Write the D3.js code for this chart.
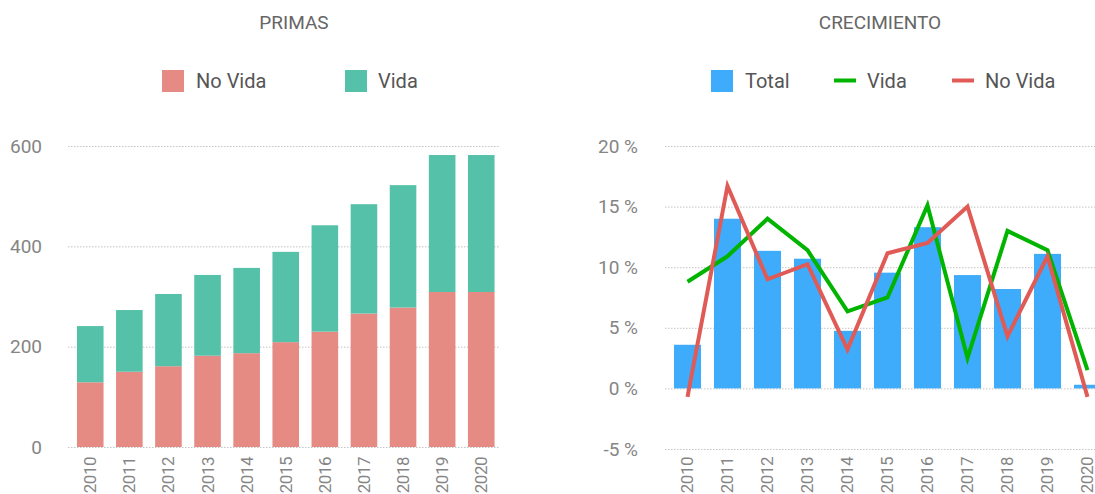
<html><head>
<title>Primas y crecimiento</title>
<script src="https://d3js.org/d3.v7.min.js"></script>
<style>
  body { margin: 0; background: #fff; }
  text { font-family: Roboto, "Open Sans", sans-serif; }
</style>
</head>
<body>
<svg id="chart" width="1095" height="494"></svg>
<script>

  // data
  const years = ["2010","2011","2012","2013","2014","2015","2016","2017","2018","2019","2020"];
  const primasNoVida = [129, 150, 161, 182, 187, 209, 230, 266, 278, 309, 309];
  const primasVida   = [112, 123, 144, 161, 170, 180, 212, 218, 244, 273, 273];
  const primasTicks = [0, 200, 400, 600];

  const crecTotal  = [3.6, 14.0, 11.35, 10.7, 4.75, 9.55, 13.3, 9.35, 8.2, 11.1, 0.3];
  const crecVida   = [8.8, 10.9, 14.0, 11.4, 6.35, 7.5, 15.1, 2.5, 13.0, 11.4, 1.5];
  const crecNoVida = [-0.7, 16.7, 9.0, 10.25, 3.2, 11.15, 12.0, 15.0, 4.3, 10.9, -0.7];
  const crecTicks = [-5, 0, 5, 10, 15, 20];

  const colNoVida = "#e68a84";
  const colVida = "#55c1a8";
  const colTotal = "#3eabfb";
  const colLineVida = "#00b400";
  const colLineNoVida = "#e05a56";

  const svg = d3.select("#chart");

  function gridAndAxis(g, y, ticks, x0, x1, labelX, fmt) {
    g.selectAll("line.grid").data(ticks)
      .join("line")
      .attr("class", "grid")
      .attr("x1", x0).attr("x2", x1)
      .attr("y1", d => y(d) + 0.5).attr("y2", d => y(d) + 0.5)
      .attr("stroke", "#c4c4c4")
      .attr("stroke-dasharray", "1.5,1.5");
    g.selectAll("text.ytick").data(ticks)
      .join("text")
      .attr("class", "ytick")
      .attr("x", labelX)
      .attr("y", d => y(d))
      .attr("dy", "0.35em")
      .attr("text-anchor", "end")
      .attr("fill", "#858585")
      .style("font-size", "19px")
      .text(fmt);
  }

  // rotated year labels, their end sits just under the zero line
  function xLabels(g, x, topY) {
    g.selectAll("text.xtick").data(years)
      .join("text")
      .attr("class", "xtick")
      .attr("transform", d => "translate(" + (x(d) + x.bandwidth() / 2) + "," + topY + ") rotate(-90)")
      .attr("dy", "0.35em")
      .attr("text-anchor", "end")
      .attr("fill", "#858585")
      .style("font-size", "17px")
      .style("letter-spacing", "-0.5px")
      .text(d => d);
  }

  function title(txt, cx) {
    svg.append("text")
      .attr("x", cx).attr("y", 29)
      .attr("text-anchor", "middle")
      .attr("fill", "#666")
      .style("font-size", "19px")
      .text(txt);
  }

  function legendText(txt, x) {
    svg.append("text")
      .attr("x", x).attr("y", 81)
      .attr("dy", "0.35em")
      .attr("fill", "#555")
      .style("font-size", "20px")
      .text(txt);
  }

  // ---------- PRIMAS (stacked bars) ----------
  const left = svg.append("g");
  const x1 = d3.scaleBand().domain(years).range([70.7, 500.8]).paddingInner(0.32).paddingOuter(0.16);
  const y1 = d3.scaleLinear().domain([0, 600]).range([447, 146]);

  gridAndAxis(left, y1, primasTicks, 68, 500, 42, d => d);

  const stackData = years.map((yr, i) => ({ year: yr, noVida: primasNoVida[i], vida: primasVida[i] }));
  const series = d3.stack().keys(["noVida", "vida"])(stackData);
  const stackColors = { noVida: colNoVida, vida: colVida };

  left.selectAll("g.layer").data(series)
    .join("g")
    .attr("class", "layer")
    .attr("fill", d => stackColors[d.key])
    .selectAll("rect").data(d => d)
    .join("rect")
    .attr("x", d => x1(d.data.year))
    .attr("width", x1.bandwidth())
    .attr("y", d => y1(d[1]))
    .attr("height", d => y1(d[0]) - y1(d[1]));

  xLabels(left, x1, 457);

  title("PRIMAS", 294);
  svg.append("rect").attr("x", 162).attr("y", 70).attr("width", 22).attr("height", 22).attr("fill", colNoVida);
  legendText("No Vida", 196);
  svg.append("rect").attr("x", 345).attr("y", 70).attr("width", 22).attr("height", 22).attr("fill", colVida);
  legendText("Vida", 378);

  // ---------- CRECIMIENTO (bars + lines) ----------
  const right = svg.append("g");
  const x2 = d3.scaleBand().domain(years).range([667.5, 1107.5]).paddingInner(0.325).paddingOuter(0.1625);
  const y2 = d3.scaleLinear().domain([-5, 20]).range([449, 146]);

  gridAndAxis(right, y2, crecTicks, 665, 1095, 638, d => d + " %");

  right.selectAll("rect.total").data(crecTotal)
    .join("rect")
    .attr("class", "total")
    .attr("fill", colTotal)
    .attr("x", (d, i) => x2(years[i]))
    .attr("width", x2.bandwidth())
    .attr("y", d => y2(Math.max(0, d)))
    .attr("height", d => Math.abs(y2(d) - y2(0)));

  const line = d3.line()
    .x((d, i) => x2(years[i]) + x2.bandwidth() / 2)
    .y(d => y2(d));

  right.append("path").datum(crecVida)
    .attr("d", line)
    .attr("fill", "none")
    .attr("stroke", colLineVida)
    .attr("stroke-width", 4);

  right.append("path").datum(crecNoVida)
    .attr("d", line)
    .attr("fill", "none")
    .attr("stroke", colLineNoVida)
    .attr("stroke-width", 4);

  xLabels(right, x2, 457);

  title("CRECIMIENTO", 880);
  svg.append("rect").attr("x", 711).attr("y", 70).attr("width", 22).attr("height", 22).attr("fill", colTotal);
  legendText("Total", 745);
  svg.append("line").attr("x1", 834).attr("x2", 856).attr("y1", 80.5).attr("y2", 80.5)
    .attr("stroke", colLineVida).attr("stroke-width", 4);
  legendText("Vida", 867);
  svg.append("line").attr("x1", 952).attr("x2", 974).attr("y1", 80.5).attr("y2", 80.5)
    .attr("stroke", colLineNoVida).attr("stroke-width", 4);
  legendText("No Vida", 985);

</script>
</body>
</html>
